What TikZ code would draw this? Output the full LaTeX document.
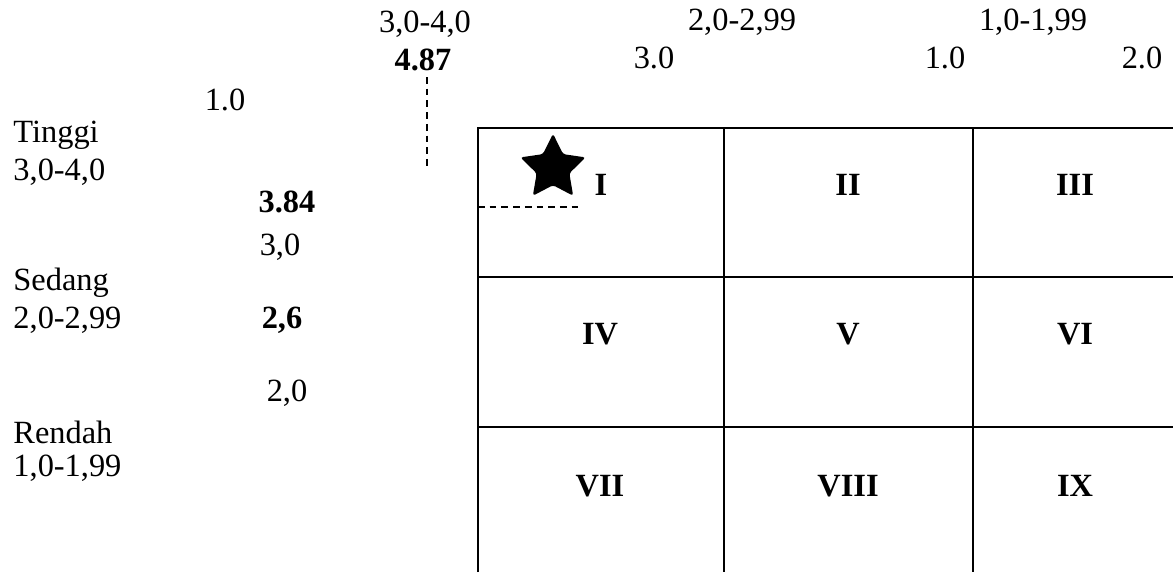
\documentclass[tikz,border=0pt]{standalone}
\usepackage{fontspec}
\setmainfont{Liberation Serif}
\usepackage{xcolor}
\usetikzlibrary{shapes.geometric}
\definecolor{MxInk}{HTML}{000000}

\begin{document}
\begin{tikzpicture}[x=0.4444pt,y=-0.4444pt,
  every node/.style={font=\fontsize{14.4}{17}\selectfont,text=MxInk,inner sep=0pt},
  cellnum/.style={font=\fontsize{14.4}{17}\selectfont\bfseries},
  gridline/.style={MxInk,line width=1.2pt},
  guide/.style={MxInk,line width=0.6pt,dash pattern=on 3pt off 2.2pt}]
\path[use as bounding box] (0,0) rectangle (1173,572);
% matrix grid
\draw[gridline] (478,572) -- (478,128) -- (1173,128);
\draw[gridline] (724,128) -- (724,572);
\draw[gridline] (973,128) -- (973,572);
\draw[gridline] (478,277) -- (1173,277);
\draw[gridline] (478,427) -- (1173,427);
% top scale
\node (topHigh) at (425,24) {3,0-4,0};
\node (topMid) at (742,22) {2,0-2,99};
\node (topLow) at (1033,22) {1,0-1,99};
\node (scoreX) at (423,60) {\textbf{4.87}};
\node (topThree) at (654,58) {3.0};
\node (topOne) at (945,58) {1.0};
\node (topTwo) at (1142,58) {2.0};
% left scale
\node (sideOne) at (225,100) {1.0};
\node[anchor=west] (sideHigh) at (13,135) {Tinggi};
\node[anchor=west] (sideHighR) at (13,172) {3,0-4,0};
\node (scoreY) at (287,202) {\textbf{3.84}};
\node (sideThree) at (280,247) {3,0};
\node[anchor=west] (sideMid) at (13,283) {Sedang};
\node[anchor=west] (sideMidR) at (13,320) {2,0-2,99};
\node (sideMean) at (282,320) {\textbf{2,6}};
\node (sideTwo) at (287,393) {2,0};
\node[anchor=west] (sideLow) at (13,432) {Rendah};
\node[anchor=west] (sideLowR) at (13,468) {1,0-1,99};
% cell numbers
\foreach \lbl/\cx/\cy in {I/601/185,II/848/185,III/1075/185,
  IV/600/334,V/848/334,VI/1075/334,VII/600/486,VIII/848/486,IX/1075/486}
  \node[cellnum] (cell\lbl) at (\cx,\cy) {\lbl};
% position marker
\node[star,star points=5,star point ratio=2.0,minimum size=30.5pt,
  fill=MxInk,rounded corners=1.2pt] (mark) at (553,168) {};
\coordinate (guideTop) at (427,77);
\coordinate (guideBot) at (427,168);
\coordinate (guideLeft) at (478,207);
\coordinate (guideRight) at (578,207);
\draw[guide] (guideTop) -- (guideBot);
\draw[guide] (guideLeft) -- (guideRight);
\end{tikzpicture}
\end{document}
